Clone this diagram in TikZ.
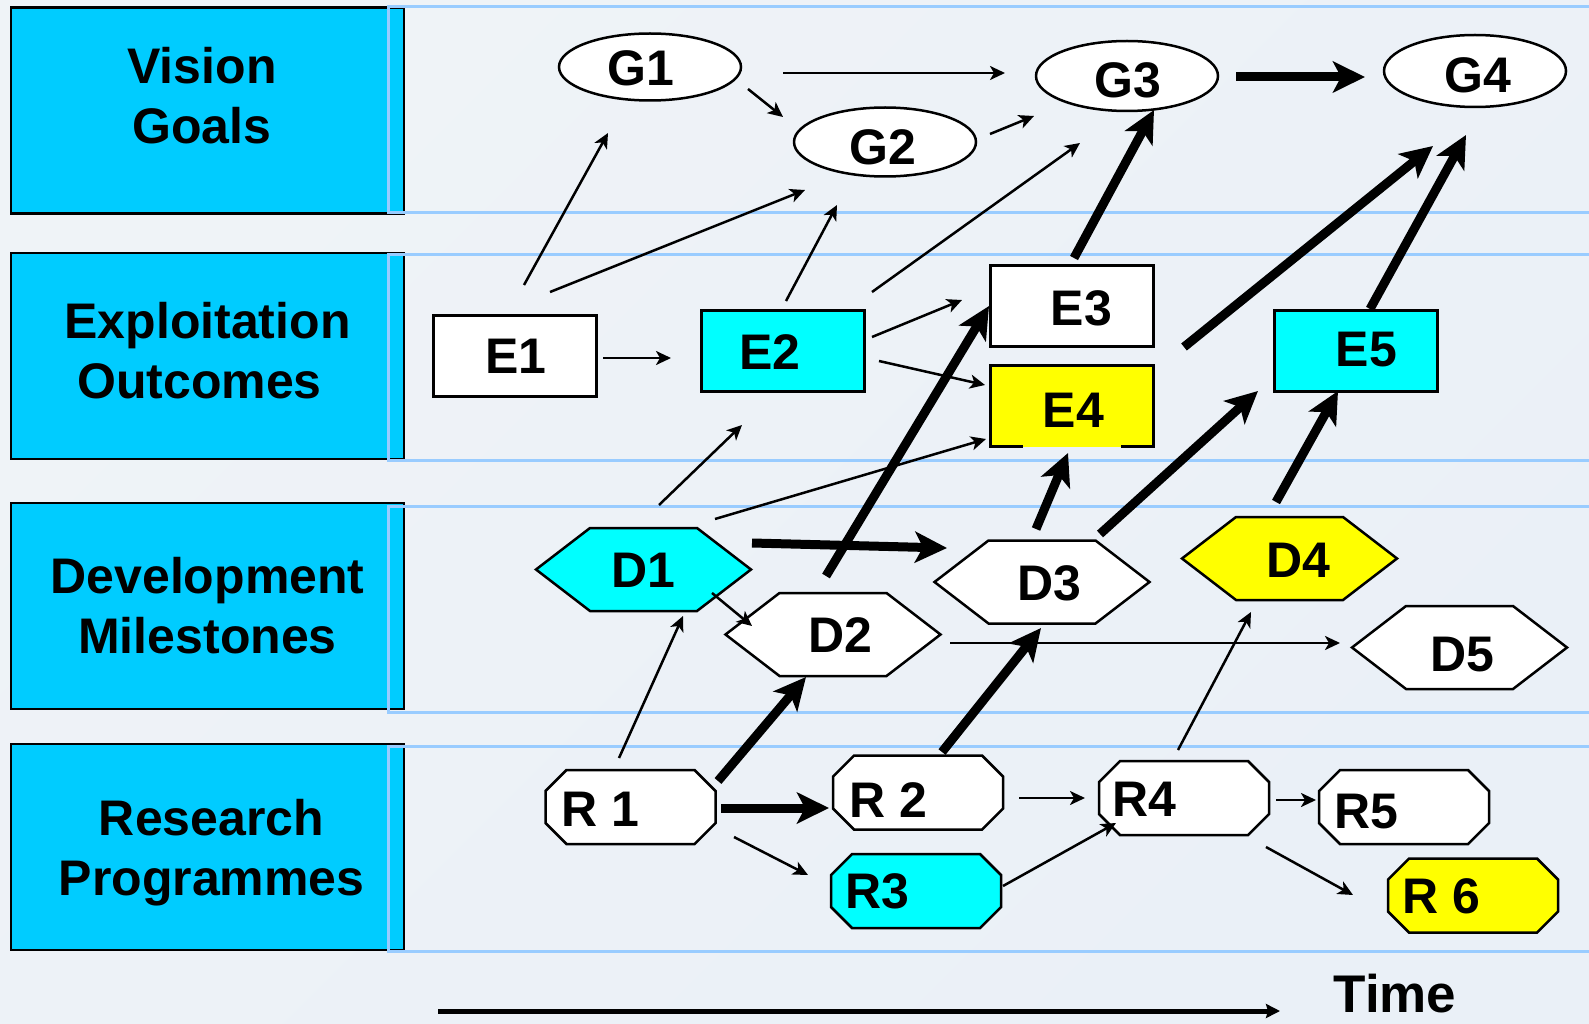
\documentclass[tikz,border=0pt]{standalone}
\usepackage{fontspec}
\setmainfont{Liberation Sans}
\usetikzlibrary{arrows.meta,calc,shapes.geometric}
\definecolor{rowcyan}{HTML}{00CCFF}
\definecolor{aqua}{HTML}{00FFFF}
\definecolor{yel}{HTML}{FFFF00}
\definecolor{bline}{HTML}{99CCFF}
\definecolor{bgA}{HTML}{EFF3F7}
\definecolor{bgB}{HTML}{DDE7F1}
\definecolor{bgC}{HTML}{EAF0F7}
% shift node text: #1 right, #2 down (pt), #3 text
\newcommand\shiftxt[3]{%
  \ifdim #1pt>0pt\hspace*{\dimexpr 2\dimexpr #1pt\relax\relax}\fi
  \ifdim #2pt>0pt\rule{0pt}{\dimexpr\fontcharht\font`D+2\dimexpr #2pt\relax\relax}\fi
  \ifdim #2pt<0pt\rule[\dimexpr 2\dimexpr #2pt\relax\relax]{0pt}{\dimexpr -2\dimexpr #2pt\relax\relax}\fi
  #3%
  \ifdim #1pt<0pt\hspace*{\dimexpr -2\dimexpr #1pt\relax\relax}\fi}
\newcommand\hexpath[3]{%
  \filldraw[shp, fill=#3] (#1-107.5,#2) -- (#1-53.5,#2-41.5) -- (#1+53.5,#2-41.5) -- (#1+107.5,#2) -- (#1+53.5,#2+41.5) -- (#1-53.5,#2+41.5) -- cycle;}
\newcommand\octpath[3]{%
  \filldraw[shp, fill=#3] (#1-85,#2-16) -- (#1-64,#2-37) -- (#1+64,#2-37) -- (#1+85,#2-16) -- (#1+85,#2+16) -- (#1+64,#2+37) -- (#1-64,#2+37) -- (#1-85,#2+16) -- cycle;}
\begin{document}
\begin{tikzpicture}[x=1pt,y=-1pt,
  rowbox/.style={draw=black, line width=2.5pt, fill=rowcyan, minimum width=393pt, minimum height=206pt, inner sep=0pt, outer sep=0pt, align=center, font=\fontsize{50}{60}\selectfont\bfseries},
  bracket/.style={draw=bline, line width=3pt},
  lbl/.style={font=\fontsize{50}{60}\selectfont\bfseries, inner sep=0pt, outer sep=0pt},
  gnode/.style={lbl, ellipse, draw=black, line width=2.5pt, fill=white, minimum width=182pt},
  enode/.style={lbl, rectangle, draw=black, line width=2.5pt, minimum width=163pt, minimum height=81pt},
  hexnode/.style={lbl, minimum width=215pt, minimum height=83pt},
  octnode/.style={lbl, minimum width=170pt, minimum height=74pt},
  shp/.style={draw=black, line width=2.5pt},
  tarrow/.style={line width=2.5pt, -{Stealth[length=15pt,width=14pt,inset=4pt]}},
  karrow/.style={line width=9pt, -{Stealth[length=32pt,width=31pt,inset=8pt]}},
]
\useasboundingbox (0,0) rectangle (1589,1024);
\shade[top color=bgA, middle color=bgB, bottom color=bgC, shading angle=45] (0,0) rectangle (1589,1024);

% row labels
\node[rowbox] (L1) at (207.5,110.5) {Vision\hspace*{11pt}\\Goals\hspace*{11pt}\rule[-30pt]{0pt}{30pt}};
\node[rowbox] (L2) at (207.5,356) {Exploitation\\Outcomes\hspace*{16pt}\rule[-11pt]{0pt}{11pt}};
\node[rowbox] (L3) at (207.5,606) {Development\\Milestones};
\node[rowbox] (L4) at (207.5,847) {\rule{0pt}{48pt}\hspace*{8pt}Research\\\hspace*{8pt}Programmes};

% row brackets
\draw[bracket] (1589,7) -- (388,7) -- (388,212.5) -- (1589,212.5);
\draw[bracket] (1589,255) -- (388,255) -- (388,460) -- (1589,460);
\draw[bracket] (1589,506) -- (388,506) -- (388,712) -- (1589,712);
\draw[bracket] (1589,746) -- (388,746) -- (388,951) -- (1589,951);

% goals
\node[gnode, minimum height=67pt] (G1) at (650,67) {\shiftxt{-9}{2}{G1}};
\node[gnode, minimum height=69pt] (G2) at (885,142) {\shiftxt{-2}{6}{G2}};
\node[gnode, minimum height=70pt] (G3) at (1127,76) {\shiftxt{1}{5}{G3}};
\node[gnode, minimum height=72pt] (G4) at (1475,71) {\shiftxt{3}{5}{G4}};

% exploitation outcomes
\node[enode, fill=white] (E1) at (515,356) {\shiftxt{1}{0}{E1}};
\node[enode, fill=aqua] (E2) at (783,351) {\shiftxt{-13}{1}{E2}};
\node[enode, fill=white] (E3) at (1072,306) {\shiftxt{9.5}{2.5}{E3}};
\node[enode, fill=yel, draw=none] (E4) at (1072,406) {\shiftxt{1.5}{4.5}{E4}};
\draw[shp] ($(E4.south west)+(32,0)$) -- (E4.south west) -- (E4.north west) -- (E4.north east) -- (E4.south east) -- ($(E4.south east)+(-33,0)$);
\node[enode, fill=aqua] (E5) at (1356,351) {\shiftxt{10.5}{-1.5}{E5}};

% development milestones
\hexpath{643.5}{569.5}{aqua}
\node[hexnode] (D1) at (643.5,569.5) {\shiftxt{0}{0.5}{D1}};
\hexpath{833}{634.5}{white}
\node[hexnode] (D2) at (833,634.5) {\shiftxt{7}{1}{D2}};
\hexpath{1042}{582}{white}
\node[hexnode] (D3) at (1042,582) {\shiftxt{7}{2}{D3}};
\hexpath{1289.5}{558.5}{yel}
\node[hexnode] (D4) at (1289.5,558.5) {\shiftxt{9}{1.5}{D4}};
\hexpath{1459.5}{647.5}{white}
\node[hexnode] (D5) at (1459.5,647.5) {\shiftxt{2.5}{7}{D5}};

% research programmes
\octpath{630.5}{807}{white}
\node[octnode] (R1) at (630.5,807) {\shiftxt{-30.5}{2}{R 1}};
\octpath{918}{792.5}{white}
\node[octnode] (R2) at (918,792.5) {\shiftxt{-30}{7.5}{R 2}};
\octpath{916}{891}{aqua}
\node[octnode] (R3) at (916,891) {\shiftxt{-39}{1}{R3}};
\octpath{1184}{798}{white}
\node[octnode] (R4) at (1184,798) {\shiftxt{-40}{1}{R4}};
\octpath{1404}{807}{white}
\node[octnode] (R5) at (1404,807) {\shiftxt{-38}{5}{R5}};
\octpath{1473}{895.5}{yel}
\node[octnode] (R6) at (1473,895.5) {\shiftxt{-32}{1.5}{R 6}};

% thin connectors
\draw[tarrow] ($(G1)+(133,6)$) -- ($(G3)+(-122,-3)$);
\draw[tarrow] ($(G1)+(98,22)$) -- ($(G2)+(-102,-25)$);
\draw[tarrow] ($(G2)+(105,-8)$) -- ($(G3)+(-93,40)$);
\draw[tarrow] ($(E1)+(9,-71)$) -- ($(G1)+(-42,66)$);
\draw[tarrow] ($(E1)+(35,-64)$) -- ($(G2)+(-80,48)$);
\draw[tarrow] ($(E2)+(3,-50)$) -- ($(G2)+(-48,63)$);
\draw[tarrow] ($(E2)+(89,-59)$) -- ($(G3)+(-47,67)$);
\draw[tarrow] ($(E1)+(88,2)$) -- ($(E2)+(-112,7)$);
\draw[tarrow] ($(E2)+(89,-14)$) -- ($(E3)+(-110,-6)$);
\draw[tarrow] ($(E2)+(96,10)$) -- ($(E4)+(-87,-21)$);
\draw[tarrow] ($(D1)+(15.5,-64.5)$) -- ($(E2)+(-41,74)$);
\draw[tarrow] ($(D1)+(71.5,-50.5)$) -- ($(E4)+(-86,33)$);
\draw[tarrow] ($(D1)+(68.5,23.5)$) -- ($(D2)+(-81,-8.5)$);
\draw[tarrow] ($(R1)+(-11.5,-49)$) -- ($(D1)+(39.5,46.5)$);
\draw[tarrow] ($(R1)+(103.5,30)$) -- ($(R3)+(-108,-16)$);
\draw[tarrow] ($(R3)+(87,-5)$) -- ($(R4)+(-68,25)$);
\draw[tarrow] ($(R2)+(101,5.5)$) -- ($(R4)+(-99,0)$);
\draw[tarrow] ($(R4)+(92,2)$) -- ($(R5)+(-88,-7)$);
\draw[tarrow] ($(R4)+(82,49)$) -- ($(R6)+(-120,-0.5)$);
\draw[tarrow] ($(R4)+(-6,-48)$) -- ($(D4)+(-38.5,53.5)$);
\draw[tarrow] ($(D2)+(117,8.5)$) -- ($(D5)+(-119.5,-4.5)$);

% thick connectors
\draw[karrow] ($(G3)+(109,1)$) -- ($(G4)+(-110,6)$);
\draw[karrow] ($(E3)+(2,-48)$) -- ($(G3)+(27,34)$);
\draw[karrow] ($(E4)+(112,-59)$) -- ($(G4)+(-42,75)$);
\draw[karrow] ($(E5)+(14,-42)$) -- ($(G4)+(-9,64)$);
\draw[karrow] ($(D2)+(-7,-58.5)$) -- ($(E3)+(-83,0)$);
\draw[karrow] ($(D1)+(108.5,-26.5)$) -- ($(D3)+(-95,-34)$);
\draw[karrow] ($(D3)+(-6,-53)$) -- ($(E4)+(-4,47)$);
\draw[karrow] ($(D3)+(58,-48)$) -- ($(E5)+(-98,40)$);
\draw[karrow] ($(D4)+(-13.5,-56.5)$) -- ($(E5)+(-18,40)$);
\draw[karrow] ($(R1)+(87.5,-26)$) -- ($(D2)+(-27,42.5)$);
\draw[karrow] ($(R1)+(90.5,1)$) -- ($(R2)+(-89,15.5)$);
\draw[karrow] ($(R2)+(24,-40.5)$) -- ($(D3)+(-1,46)$);

% time axis
\coordinate (ts) at (438,1011);
\coordinate (te) at (1280,1011);
\draw[line width=5pt, -{Stealth[length=14pt,width=14pt,inset=2pt]}] (ts) -- (te);
\node[font=\fontsize{53}{60}\selectfont\bfseries, inner sep=0pt] (T) at (1395,994) {Time};
\end{tikzpicture}
\end{document}
